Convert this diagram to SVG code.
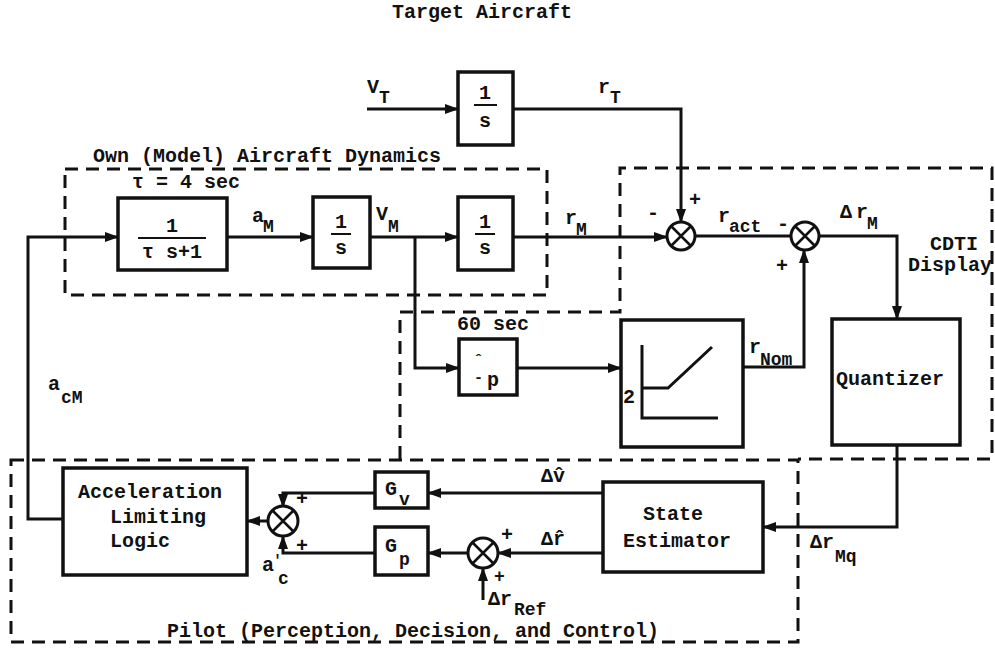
<svg xmlns="http://www.w3.org/2000/svg" width="995" height="649" viewBox="0 0 995 649">
<defs>
<marker id="ah" markerUnits="userSpaceOnUse" markerWidth="14" markerHeight="10" refX="13" refY="5" orient="auto">
<path d="M0,0 L14,5 L0,10 z" fill="#111"/>
</marker>
<style>
text{font-family:"Liberation Mono","DejaVu Sans Mono",monospace;font-weight:bold;font-size:20px;fill:#111}
.sub{font-size:18px}
.sm{font-size:15px}
.blk{fill:#fff;stroke:#111;stroke-width:3.5}
.ln{fill:none;stroke:#111;stroke-width:3}
.arr{fill:none;stroke:#111;stroke-width:3;marker-end:url(#ah)}
.dash{fill:none;stroke:#111;stroke-width:3;stroke-dasharray:13 8}
.sum{fill:#fff;stroke:#111;stroke-width:3}
.mid{text-anchor:middle}
</style>
</defs>
<rect width="995" height="649" fill="#fff"/>

<g id="regions">
<rect class="dash" x="65" y="169" width="482" height="126"/>
<path class="dash" d="M400,459 V312 H620 V168 H992 V459 H798"/>
<rect class="dash" x="11" y="460" width="787" height="182"/>
</g>

<g id="connectors">
<path class="arr" d="M367,109 H458"/>
<path class="arr" d="M513,109 H681 V222"/>
<path class="arr" d="M63,519 H28 V237 H118"/>
<path class="arr" d="M227,237 H313"/>
<path class="arr" d="M370,237 H458"/>
<path class="arr" d="M415,237 V368 H459"/>
<path class="arr" d="M513,237 H667"/>
<path class="ln" d="M695,236 H791"/>
<path class="arr" d="M819,236 H897 V319"/>
<path class="arr" d="M517,368 H621"/>
<path class="arr" d="M743,367 H804 V250"/>
<path class="arr" d="M897,445 V527 H763"/>
<path class="arr" d="M603,493 H428"/>
<path class="arr" d="M603,553 H498"/>
<path class="arr" d="M468,553 H428"/>
<path class="arr" d="M483,600 V568"/>
<path class="arr" d="M375,493 H283 V507"/>
<path class="arr" d="M375,553 H283 V536"/>
<path class="arr" d="M268,521 H247"/>
</g>

<g id="target">
<rect class="blk" x="458" y="72" width="55" height="73"/>
<text class="mid" x="485" y="99">1</text>
<line class="ln" x1="474" y1="105" x2="497" y2="105" style="stroke-width:2"/>
<text class="mid" x="485" y="127">s</text>
</g>

<g id="lag">
<rect class="blk" x="118" y="198" width="109" height="72"/>
<text class="mid" x="172" y="232">1</text>
<line class="ln" x1="138" y1="238" x2="206" y2="238" style="stroke-width:2"/>
<text class="mid" x="172" y="258">τ s+1</text>
</g>

<g id="int1">
<rect class="blk" x="313" y="197" width="57" height="71"/>
<text class="mid" x="341" y="228">1</text>
<line class="ln" x1="331" y1="234" x2="351" y2="234" style="stroke-width:2"/>
<text class="mid" x="341" y="254">s</text>
</g>

<g id="int2">
<rect class="blk" x="458" y="197" width="55" height="73"/>
<text class="mid" x="485" y="228">1</text>
<line class="ln" x1="475" y1="234" x2="495" y2="234" style="stroke-width:2"/>
<text class="mid" x="485" y="254">s</text>
</g>

<g id="j1">
<circle class="sum" cx="681" cy="236" r="14"/>
<path class="ln" d="M671,226 L691,246 M691,226 L671,246" style="stroke-width:2.5"/>
</g>
<g id="j2">
<circle class="sum" cx="805" cy="236" r="14"/>
<path class="ln" d="M795,226 L815,246 M815,226 L795,246" style="stroke-width:2.5"/>
</g>

<g id="tau">
<rect class="blk" x="459" y="339" width="58" height="56"/>
<text class="sm" x="474" y="365">ˆ</text>
<text class="sm" x="474" y="382">-</text>
<text x="487" y="386">p</text>
</g>

<g id="nominal">
<rect class="blk" x="621" y="320" width="122" height="127"/>
<text x="623" y="403">2</text>
<path class="ln" d="M642,345 V418 H718 M642,388 H668 L712,347"/>
</g>

<g id="quantizer">
<rect class="blk" x="832" y="319" width="128" height="126"/>
<text class="mid" x="890" y="385">Quantizer</text>
</g>

<g id="estimator">
<rect class="blk" x="603" y="482" width="160" height="90"/>
<text class="mid" x="673" y="520">State</text>
<text class="mid" x="677" y="547">Estimator</text>
</g>

<g id="gv">
<rect class="blk" x="375" y="472" width="53" height="36"/>
<text x="385" y="495">G</text>
<text class="sub" x="399" y="505">v</text>
</g>
<g id="gp">
<rect class="blk" x="375" y="527" width="53" height="48"/>
<text x="385" y="552">G</text>
<text class="sub" x="399" y="565">p</text>
</g>

<g id="j3">
<circle class="sum" cx="283" cy="521" r="15"/>
<path class="ln" d="M272,510 L294,532 M294,510 L272,532" style="stroke-width:2.5"/>
</g>
<g id="j4">
<circle class="sum" cx="483" cy="553" r="15"/>
<path class="ln" d="M472,542 L494,564 M494,542 L472,564" style="stroke-width:2.5"/>
</g>

<g id="accel">
<rect class="blk" x="63" y="468" width="184" height="107"/>
<text x="78" y="498">Acceleration</text>
<text x="110" y="523">Limiting</text>
<text x="110" y="547">Logic</text>
</g>

<g id="labels">
<text class="mid" x="482" y="18">Target Aircraft</text>
<text x="93" y="162">Own (Model) Aircraft Dynamics</text>
<text x="132" y="188">τ = 4 sec</text>
<text x="457" y="330">60 sec</text>
<text x="367" y="93">V</text><text class="sub" x="379" y="103">T</text>
<text x="598" y="93">r</text><text class="sub" x="610" y="103">T</text>
<text x="252" y="222">a</text><text class="sub" x="263" y="232">M</text>
<text x="376" y="220">V</text><text class="sub" x="388" y="232">M</text>
<text x="565" y="224">r</text><text class="sub" x="576" y="235">M</text>
<text x="647" y="219">-</text>
<text x="689" y="206">+</text>
<text x="718" y="222">r</text><text class="sub" x="729" y="232">act</text>
<text x="777" y="230">-</text>
<text x="840" y="218">Δ</text><text x="856" y="218">r</text><text class="sub" x="867" y="229">M</text>
<text x="776" y="272">+</text>
<text x="930" y="250">CDTI</text>
<text x="908" y="271">Display</text>
<text x="749" y="353">r</text><text class="sub" x="760" y="365">Nom</text>
<text x="48" y="390">a</text><text class="sub" x="61" y="403">cM</text>
<text x="541" y="482">Δv̂</text>
<text x="541" y="545">Δr̂</text>
<text x="810" y="548">Δr</text><text class="sub" x="835" y="562">Mq</text>
<text x="296" y="505">+</text>
<text x="296" y="552">+</text>
<text x="262" y="571">a</text><text x="273" y="565" style="font-size:15px">'</text><text class="sub" x="278" y="584">c</text>
<text x="501" y="541">+</text>
<text class="sub" x="494" y="582">+</text>
<text x="488" y="605">Δr</text><text class="sub" x="514" y="615">Ref</text>
<text x="167" y="637">Pilot (Perception, Decision, and Control)</text>
</g>
</svg>
